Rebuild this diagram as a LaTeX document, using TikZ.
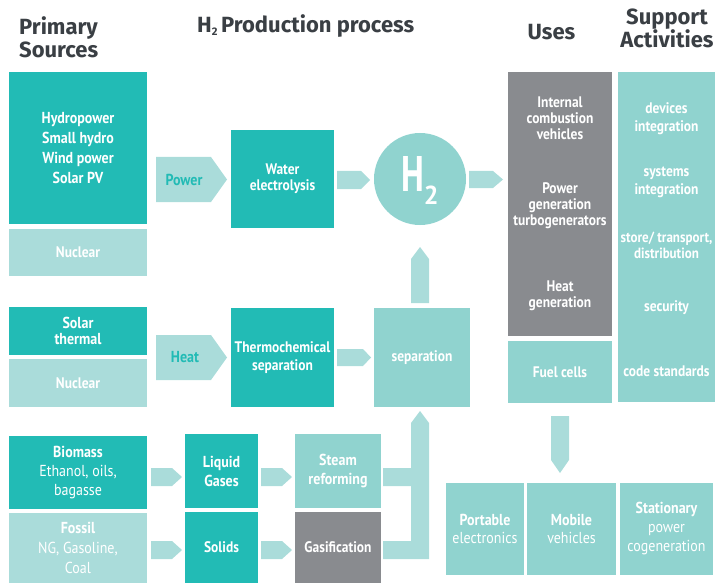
\documentclass[tikz,border=0pt]{standalone}
\usepackage{fontspec}
\setmainfont{PT Sans}[FakeStretch=0.88]
\newfontfamily\hdrfont{Fira Sans}
\newfontfamily\htwofont{PT Sans}[FakeStretch=0.7]
\newfontfamily\plainfont{PT Sans}
\definecolor{dteal}{HTML}{22BBB5}
\definecolor{mteal}{HTML}{90D3CF}
\definecolor{lteal}{HTML}{AADCDA}
\definecolor{gry}{HTML}{898B8F}
\definecolor{hdr}{HTML}{3A3F44}
\tikzset{
  box/.style={rectangle, inner sep=0pt, text=white, align=center,
    font=\fontsize{15.3}{17}\selectfont\bfseries},
  dbox/.style={box, fill=dteal},
  mbox/.style={box, fill=mteal},
  lbox/.style={box, fill=lteal},
  gbox/.style={box, fill=gry},
  wtxt/.style={inner sep=0pt, text=white, align=center,
    font=\fontsize{15.3}{16}\selectfont\bfseries},
  hdrtxt/.style={inner sep=0pt, text=hdr,
    font=\hdrfont\fontsize{22}{23}\selectfont\bfseries},
  arw/.style={fill=lteal},
  arwlbl/.style={inner sep=0pt, text=dteal, font=\fontsize{15.9}{16}\selectfont\bfseries},
  sz/.style 2 args={minimum width=#1, minimum height=#2}
}
\begin{document}
\begin{tikzpicture}[x=1pt,y=-1pt]
\useasboundingbox (0,0) rectangle (715,583);

% headers
\node[hdrtxt, anchor=north west, align=left] (hprim) at (19,16) {Primary\\Sources};
\node[hdrtxt, anchor=base west] (hprod) at (197,33) {H\raisebox{-3pt}{\fontsize{11}{11}\selectfont 2}\,Production process};
\node[hdrtxt, anchor=base] (huses) at (551.5,40) {Uses};
\node[hdrtxt, anchor=north, align=center] (hsupp) at (667,9) {Support\\Activities};

% primary sources
\node[dbox, sz={138pt}{152pt}, font=\fontsize{15.9}{20}\selectfont\bfseries] (hydro) at (78,148) {Hydropower\\Small hydro\\Wind power\\Solar PV};
\node[lbox, sz={138pt}{47pt}] (nuc1) at (78,252.5) {Nuclear};
\node[dbox, sz={138pt}{48pt}, font=\fontsize{15.9}{16}\selectfont\bfseries] (solar) at (78,331) {Solar\\thermal};
\node[lbox, sz={138pt}{48pt}] (nuc2) at (78,383) {Nuclear};
\node[dbox, sz={138pt}{73pt}, font=\fontsize{15.9}{19}\selectfont\bfseries] (bio) at (78,472.5) {Biomass\\{\mdseries Ethanol, oils,}\\{\mdseries bagasse}};
\node[lbox, sz={138pt}{70pt}, font=\fontsize{15.9}{20}\selectfont\bfseries] (fossil) at (78,548) {Fossil\\{\mdseries NG, Gasoline,}\\{\mdseries Coal}};

% production
\node[dbox, sz={103pt}{98pt}, font=\fontsize{15.3}{16}\selectfont\bfseries] (water) at (282.5,179) {Water\\electrolysis};
\node[dbox, sz={103pt}{99pt}, font=\fontsize{15.3}{18}\selectfont\bfseries] (thermo) at (282.5,357.5) {Thermochemical\\separation};
\node[mbox, sz={96pt}{99pt}] (sep) at (422,357.5) {separation};
\node[dbox, sz={73pt}{74pt}, font=\fontsize{15.9}{19}\selectfont\bfseries] (liquid) at (221.5,471) {Liquid\\Gases};
\node[mbox, sz={86pt}{74pt}, font=\fontsize{15.9}{19}\selectfont\bfseries] (steam) at (338,471) {Steam\\reforming};
\node[dbox, sz={73pt}{71pt}] (solids) at (221.5,547.5) {Solids};
\node[gbox, sz={86pt}{71pt}] (gasif) at (338,547.5) {Gasification};
\node[circle, fill=mteal, minimum size=92pt, inner sep=0pt] (h2) at (420,179) {};
\node[inner sep=0pt, text=white, anchor=base west, font=\htwofont\fontsize{50}{50}\selectfont\bfseries] (h2t) at (401,192) {H\raisebox{-13pt}{\plainfont\fontsize{26}{26}\selectfont 2}};

% uses
\node[gbox, sz={104pt}{264pt}] (uses) at (560,204) {};
\node[wtxt] (ice) at (560,118) {Internal\\combustion\\vehicles};
\node[wtxt] (pgt) at (560,206) {Power\\generation\\turbogenerators};
\node[wtxt] (heatg) at (560,296) {Heat\\generation};
\node[mbox, sz={104pt}{62pt}] (fuel) at (560,372) {Fuel cells};

% support
\node[mbox, sz={97pt}{330pt}] (supp) at (666.5,237) {};
\node[wtxt, font=\fontsize{15.3}{18}\selectfont\bfseries] (devi) at (666.5,119) {devices\\integration};
\node[wtxt, font=\fontsize{15.3}{18}\selectfont\bfseries] (sysi) at (666.5,182) {systems\\integration};
\node[wtxt, font=\fontsize{14.8}{16}\selectfont\bfseries] (stor) at (666.5,245) {store/ transport,\\distribution};
\node[wtxt] (secu) at (666.5,308) {security};
\node[wtxt] (code) at (666.5,371) {code standards};

% applications
\node[mbox, sz={78pt}{92pt}, font=\fontsize{15.9}{18}\selectfont\bfseries] (port) at (485,529) {Portable\\{\mdseries electronics}};
\node[mbox, sz={89pt}{92pt}, font=\fontsize{15.9}{18}\selectfont\bfseries] (mob) at (571.5,529) {Mobile\\{\mdseries vehicles}};
\node[mbox, sz={93pt}{92pt}, font=\fontsize{15.9}{19}\selectfont\bfseries] (stat) at (666.5,529) {Stationary\\{\mdseries power}\\{\mdseries cogeneration}};

% block arrows
\fill[arw] (156,157) -- (211,157) -- (227,179.5) -- (211,202) -- (156,202) -- cycle;
\node[arwlbl] (power) at (184,179.5) {Power};
\fill[arw] (156,335) -- (211,335) -- (227,357.5) -- (211,380) -- (156,380) -- cycle;
\node[arwlbl] (heat) at (185,357.5) {Heat};
\fill[arw] (337,171) -- (361,171) -- (370,180) -- (361,189) -- (337,189) -- cycle;
\fill[arw] (469,171) -- (493,171) -- (503,179.5) -- (493,188) -- (469,188) -- cycle;
\fill[arw] (337,349) -- (363,349) -- (371,357.5) -- (363,366) -- (337,366) -- cycle;
\fill[arw] (151,468) -- (172,468) -- (182,477) -- (172,486) -- (151,486) -- cycle;
\fill[arw] (261,468) -- (282,468) -- (292,477) -- (282,486) -- (261,486) -- cycle;
\fill[arw] (151,541) -- (172,541) -- (182,550) -- (172,559) -- (151,559) -- cycle;
\fill[arw] (261,541) -- (282,541) -- (292,550) -- (282,559) -- (261,559) -- cycle;
\fill[arw] (383,468) -- (411,468) -- (411,423) -- (420,411) -- (429,423) -- (429,559)
  -- (383,559) -- (383,541) -- (411,541) -- (411,486) -- (383,486) -- cycle;
\fill[arw] (411,303) -- (411,259) -- (420,247) -- (429,259) -- (429,303) -- cycle;
\fill[arw] (551,416) -- (569,416) -- (569,460) -- (560,473) -- (551,460) -- cycle;
\end{tikzpicture}
\end{document}
